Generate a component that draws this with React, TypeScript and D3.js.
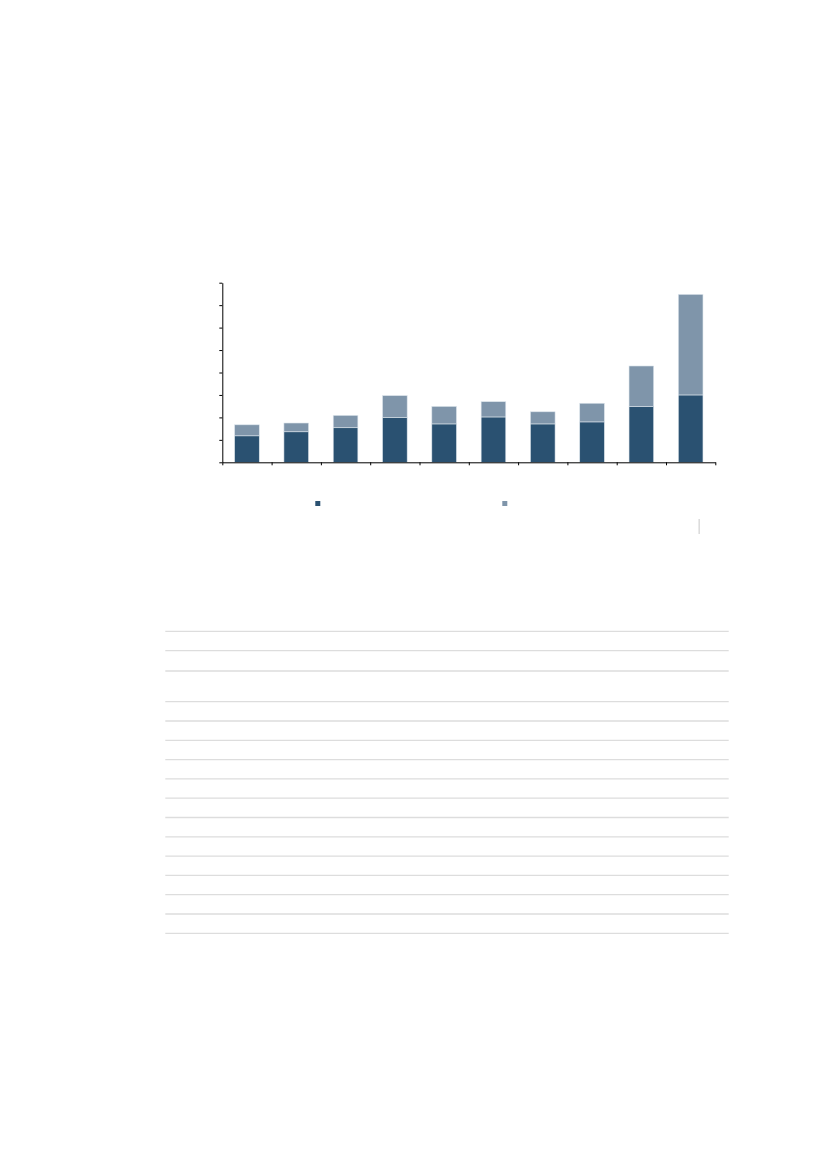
import * as d3 from "d3";
import { useEffect, useRef } from "react";
import * as React from "react";

// chart values (labels are not printed in the source)
const categories = ["P1", "P2", "P3", "P4", "P5", "P6", "P7", "P8", "P9", "P10"];
const baseValues = [11.8, 13.6, 15.4, 19.9, 17.1, 20.2, 17.1, 18.0, 24.8, 30.0];
const extraValues = [4.9, 3.9, 5.5, 9.8, 7.8, 6.8, 5.4, 8.3, 18.1, 44.8];
const seriesNames = ["base", "extra"];
const yTicks = [0, 10, 20, 30, 40, 50, 60, 70, 80];
// table below the chart: row heights (px) of the empty grid
const tableRowHeights = [19.4, 20.3, 30.7, 19.3, 19.3, 19.3, 19.3, 19.3, 19.3, 19.3, 19.3, 19.3, 19.3, 19.3, 19.3];

const DARK = "#2a5171";
const LIGHT = "#7f95aa";

const App: React.FC = () => {
  const ref = useRef<SVGSVGElement | null>(null);

  useEffect(() => {
    const svg = d3.select(ref.current);
    svg.selectAll("*").remove();

    const left = 222.3;
    const right = 715.3;
    const top = 282.7;
    const bottom = 462.3;

    const x = d3
      .scaleBand<string>()
      .domain(categories)
      .range([left, right])
      .paddingInner(0.5)
      .paddingOuter(0.25);

    const y = d3.scaleLinear().domain([0, 80]).range([bottom, top]);

    const rows = categories.map((c, i) => ({
      label: c,
      base: baseValues[i],
      extra: extraValues[i],
    }));
    const stacked = d3.stack<any>().keys(seriesNames)(rows);
    const color = d3.scaleOrdinal<string>().domain(seriesNames).range([DARK, LIGHT]);

    // bars
    svg
      .append("g")
      .selectAll("g")
      .data(stacked)
      .enter()
      .append("g")
      .attr("fill", (d) => color(d.key))
      .selectAll("rect")
      .data((d) => d)
      .enter()
      .append("rect")
      .attr("x", (d: any) => x(d.data.label) as number)
      .attr("width", x.bandwidth())
      .attr("y", (d) => y(d[1]))
      .attr("height", (d) => y(d[0]) - y(d[1]))
      .attr("stroke", "#dde5ec")
      .attr("stroke-width", 0.6);

    // y axis, no labels
    svg
      .append("g")
      .attr("transform", `translate(${left},0)`)
      .call(
        d3
          .axisLeft(y)
          .tickValues(yTicks)
          .tickSize(3)
          .tickSizeOuter(0)
          .tickFormat(() => "")
      )
      .call((g) => g.selectAll("path,line").attr("stroke", "#000").attr("stroke-width", 1));

    // x axis, ticks on category boundaries
    const xb = d3.scaleLinear().domain([0, categories.length]).range([left, right]);
    svg
      .append("g")
      .attr("transform", `translate(0,${bottom})`)
      .call(
        d3
          .axisBottom(xb)
          .tickValues(d3.range(categories.length + 1))
          .tickSize(3)
          .tickSizeOuter(0)
          .tickFormat(() => "")
      )
      .call((g) => g.selectAll("path,line").attr("stroke", "#000").attr("stroke-width", 1));

    // legend markers
    const legend = svg.append("g");
    [315.3, 502.3].forEach((lx, i) => {
      legend
        .append("rect")
        .attr("x", lx)
        .attr("y", 501)
        .attr("width", 5)
        .attr("height", 5)
        .attr("fill", color(seriesNames[i]));
    });

    // small source divider
    svg
      .append("line")
      .attr("x1", 699.2)
      .attr("x2", 699.2)
      .attr("y1", 519)
      .attr("y2", 534)
      .attr("stroke", "#dcdcdc")
      .attr("stroke-width", 1.6);

    // table grid lines
    let ty = 631.3;
    const lineYs = [ty];
    tableRowHeights.forEach((h) => {
      ty += h;
      lineYs.push(ty);
    });
    svg
      .append("g")
      .selectAll("line")
      .data(lineYs)
      .enter()
      .append("line")
      .attr("x1", 165.3)
      .attr("x2", 728.7)
      .attr("y1", (d) => d)
      .attr("y2", (d) => d)
      .attr("stroke", "#dddddd")
      .attr("stroke-width", 1.3);

    return () => {
      svg.selectAll("*").remove();
    };
  });

  return (
    <div style={{ position: "absolute", left: 0, top: 0 }}>
      <svg ref={ref} width={827} height={1169} style={{ display: "block" }} />
    </div>
  );
};

export default App;
